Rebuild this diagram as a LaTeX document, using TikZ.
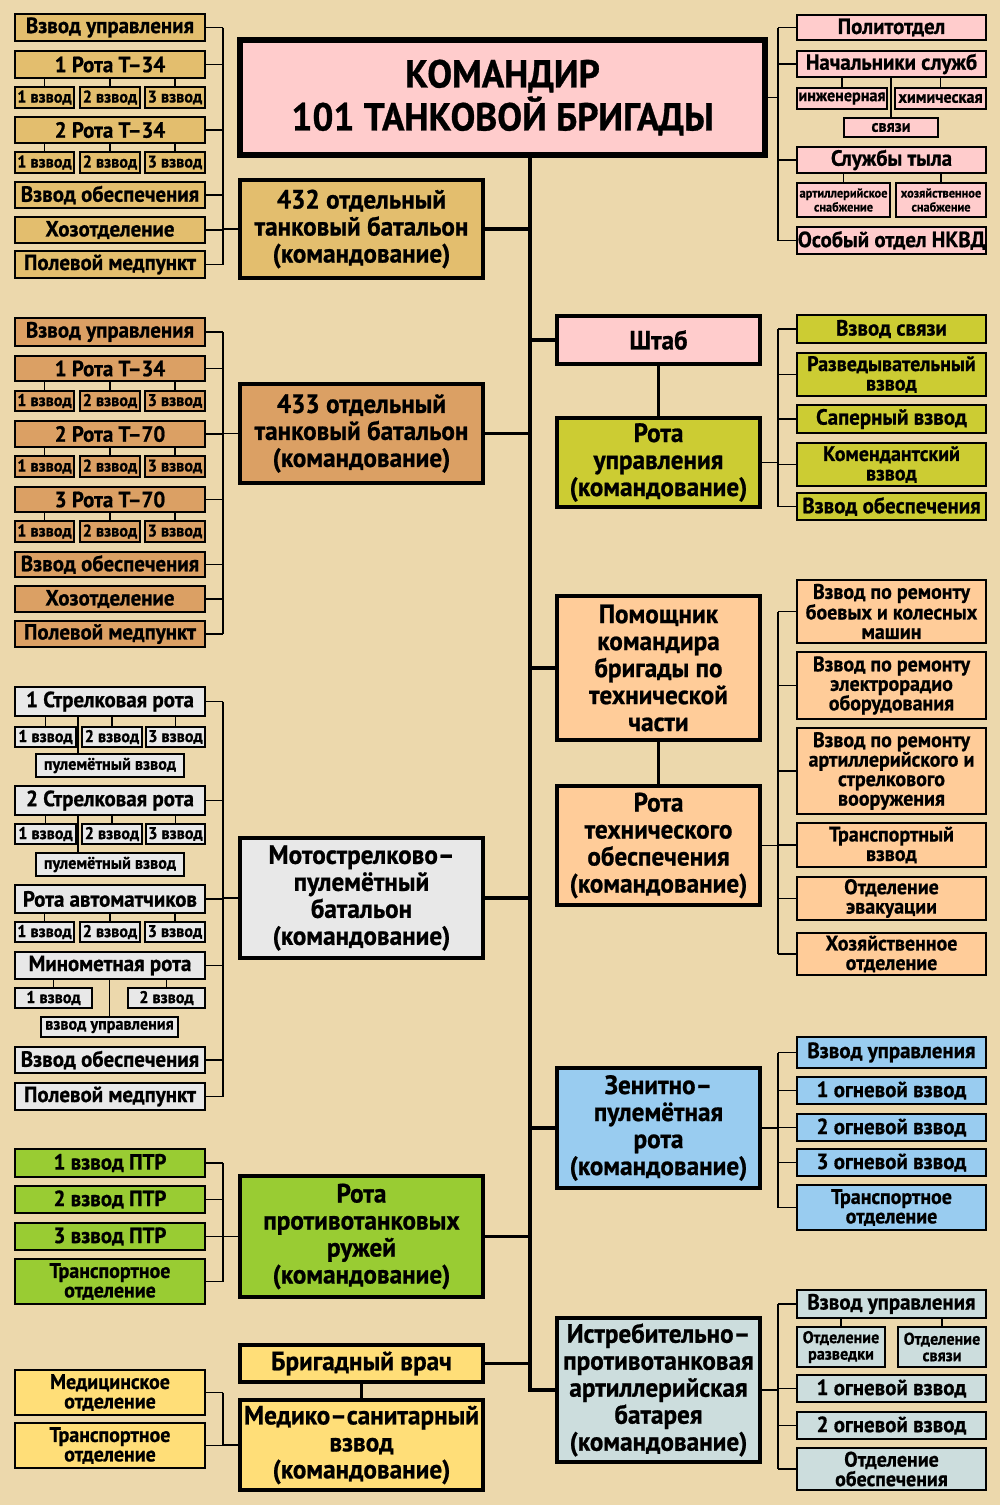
\documentclass[tikz,border=0pt]{standalone}
\usepackage{fontspec}
\setmainfont{PT Sans}[FakeStretch=0.95,BoldFeatures={FakeBold=0.8}]
\definecolor{bgc}{RGB}{236,216,172}
\definecolor{cpink}{RGB}{255,204,204}
\definecolor{ctan}{RGB}{227,190,110}
\definecolor{corg}{RGB}{219,160,100}
\definecolor{cgray}{RGB}{232,232,232}
\definecolor{cgreen}{RGB}{153,204,51}
\definecolor{cyel}{RGB}{255,222,120}
\definecolor{colive}{RGB}{204,204,51}
\definecolor{cpeach}{RGB}{255,204,153}
\definecolor{cblue}{RGB}{153,204,240}
\definecolor{cgb}{RGB}{204,221,221}
\newcommand\mybox[7]{\node[#2,minimum width={#5-#3},minimum height={#6-#4}] (#1) at ({(#3+#5)/2},{(#4+#6)/2}) {#7};}
\newcommand\fz[2]{\fontsize{#1}{#2}\selectfont}
\tikzset{
 bx/.style={draw=black,rectangle,inner sep=0pt,align=center,text=black},
 BB/.style={bx,line width=3.6pt},
 SB/.style={bx,line width=1.8pt},
 fC/.style={font=\bfseries\fz{39}{43}},
 fB/.style={font=\bfseries\fz{26.5}{27}},
 fS/.style={font=\bfseries\fz{22}{22}},
 fS2/.style={font=\bfseries\fz{21}{19.5}},
 fT/.style={font=\bfseries\fz{17}{16.5}},
 fTT/.style={font=\bfseries\fz{13}{14}},
 lnS/.style={line width=1.8pt},
 lnB/.style={line width=3.6pt},
}
\begin{document}
\begin{tikzpicture}[x=1pt,y=-1pt]
\fill[bgc] (0,0) rectangle (1000,1505);
\useasboundingbox (0,0) rectangle (1000,1505);
\coordinate (LB) at (223,0);
\coordinate (RB) at (778,0);
\coordinate (TR) at (530,0);
\coordinate (PX) at (78,0);
% commander
\mybox{cmd}{BB,fC,fill=cpink,line width=5.5pt}{240}{40}{765}{155}{КОМАНДИР\\101 ТАНКОВОЙ БРИГАДЫ}
% ---------- 432
\mybox{vu1}{SB,fS,fill=ctan}{15}{14}{205}{41}{Взвод управления}
\mybox{r1a}{SB,fS,fill=ctan}{15}{51}{205}{78}{1 Рота Т–34}
\mybox{r1a1}{SB,fT,fill=ctan}{15}{87}{74}{108}{1 взвод}
\mybox{r1a2}{SB,fT,fill=ctan}{80}{87}{140}{108}{2 взвод}
\mybox{r1a3}{SB,fT,fill=ctan}{145}{87}{205}{108}{3 взвод}
\mybox{r2a}{SB,fS,fill=ctan}{15}{117}{205}{143}{2 Рота Т–34}
\mybox{r2a1}{SB,fT,fill=ctan}{15}{152}{74}{173}{1 взвод}
\mybox{r2a2}{SB,fT,fill=ctan}{80}{152}{140}{173}{2 взвод}
\mybox{r2a3}{SB,fT,fill=ctan}{145}{152}{205}{173}{3 взвод}
\mybox{vo1}{SB,fS,fill=ctan}{15}{182}{205}{208}{Взвод обеспечения}
\mybox{hoz1}{SB,fS,fill=ctan}{15}{217}{205}{243}{Хозотделение}
\mybox{med1}{SB,fS,fill=ctan}{15}{251}{205}{278}{Полевой медпункт}
\mybox{b432}{BB,fB,fill=ctan}{240}{180}{483}{278}{432 отдельный\\танковый батальон\\(командование)}
% ---------- 433
\mybox{vu2}{SB,fS,fill=corg}{15}{318}{205}{346}{Взвод управления}
\mybox{r1b}{SB,fS,fill=corg}{15}{356}{205}{381}{1 Рота Т–34}
\mybox{r1b1}{SB,fT,fill=corg}{15}{391}{74}{411}{1 взвод}
\mybox{r1b2}{SB,fT,fill=corg}{80}{391}{140}{411}{2 взвод}
\mybox{r1b3}{SB,fT,fill=corg}{145}{391}{205}{411}{3 взвод}
\mybox{r2b}{SB,fS,fill=corg}{15}{421}{205}{447}{2 Рота Т–70}
\mybox{r2b1}{SB,fT,fill=corg}{15}{456}{74}{477}{1 взвод}
\mybox{r2b2}{SB,fT,fill=corg}{80}{456}{140}{477}{2 взвод}
\mybox{r2b3}{SB,fT,fill=corg}{145}{456}{205}{477}{3 взвод}
\mybox{r3b}{SB,fS,fill=corg}{15}{487}{205}{512}{3 Рота Т–70}
\mybox{r3b1}{SB,fT,fill=corg}{15}{521}{74}{542}{1 взвод}
\mybox{r3b2}{SB,fT,fill=corg}{80}{521}{140}{542}{2 взвод}
\mybox{r3b3}{SB,fT,fill=corg}{145}{521}{205}{542}{3 взвод}
\mybox{vo2}{SB,fS,fill=corg}{15}{552}{205}{577}{Взвод обеспечения}
\mybox{hoz2}{SB,fS,fill=corg}{15}{586}{205}{612}{Хозотделение}
\mybox{med2}{SB,fS,fill=corg}{15}{621}{205}{647}{Полевой медпункт}
\mybox{b433}{BB,fB,fill=corg}{240}{384}{483}{483}{433 отдельный\\танковый батальон\\(командование)}
% ---------- moto
\mybox{s1}{SB,fS,fill=cgray}{15}{687}{205}{716}{1 Стрелковая рота}
\mybox{s1a}{SB,fT,fill=cgray}{15}{727}{76}{747}{1 взвод}
\mybox{s1b}{SB,fT,fill=cgray}{82}{727}{142}{747}{2 взвод}
\mybox{s1c}{SB,fT,fill=cgray}{146}{727}{205}{747}{3 взвод}
\mybox{s1p}{SB,fT,fill=cgray}{36}{754}{184}{777}{пулемётный взвод}
\mybox{s2}{SB,fS,fill=cgray}{15}{786}{205}{815}{2 Стрелковая рота}
\mybox{s2a}{SB,fT,fill=cgray}{15}{824}{76}{844}{1 взвод}
\mybox{s2b}{SB,fT,fill=cgray}{82}{824}{142}{844}{2 взвод}
\mybox{s2c}{SB,fT,fill=cgray}{146}{824}{205}{844}{3 взвод}
\mybox{s2p}{SB,fT,fill=cgray}{36}{853}{184}{876}{пулемётный взвод}
\mybox{ra}{SB,fS,fill=cgray}{15}{885}{205}{913}{Рота автоматчиков}
\mybox{raa}{SB,fT,fill=cgray}{15}{922}{74}{942}{1 взвод}
\mybox{rab}{SB,fT,fill=cgray}{80}{922}{140}{942}{2 взвод}
\mybox{rac}{SB,fT,fill=cgray}{145}{922}{205}{942}{3 взвод}
\mybox{mr}{SB,fS,fill=cgray}{15}{952}{205}{979}{Минометная рота}
\mybox{mra}{SB,fT,fill=cgray}{15}{988}{92}{1008}{1 взвод}
\mybox{mrb}{SB,fT,fill=cgray}{128}{988}{205}{1008}{2 взвод}
\mybox{mru}{SB,fT,fill=cgray}{41}{1017}{178}{1037}{взвод управления}
\mybox{vo3}{SB,fS,fill=cgray}{15}{1047}{205}{1073}{Взвод обеспечения}
\mybox{med3}{SB,fS,fill=cgray}{15}{1083}{205}{1110}{Полевой медпункт}
\mybox{moto}{BB,fB,fill=cgray}{240}{838}{483}{958}{Мотострелково–\\пулемётный\\батальон\\(командование)}
% ---------- PTR
\mybox{p1}{SB,fS,fill=cgreen}{15}{1149}{205}{1177}{1 взвод ПТР}
\mybox{p2}{SB,fS,fill=cgreen}{15}{1186}{205}{1213}{2 взвод ПТР}
\mybox{p3}{SB,fS,fill=cgreen}{15}{1223}{205}{1250}{3 взвод ПТР}
\mybox{pt}{SB,fS2,fill=cgreen}{15}{1259}{205}{1304}{Транспортное\\отделение}
\mybox{ptr}{BB,fB,fill=cgreen}{240}{1176}{483}{1297}{Рота\\противотанковых\\ружей\\(командование)}
% ---------- medical
\mybox{mo}{SB,fS2,fill=cyel}{15}{1370}{205}{1415}{Медицинское\\отделение}
\mybox{mt}{SB,fS2,fill=cyel}{15}{1423}{205}{1468}{Транспортное\\отделение}
\mybox{vrach}{BB,fB,fill=cyel}{240}{1345}{483}{1382}{Бригадный врач}
\mybox{msv}{BB,fB,fill=cyel}{240}{1400}{483}{1490}{Медико–санитарный\\взвод\\(командование)}
% ---------- right top
\mybox{pol}{SB,fS,fill=cpink}{797}{15}{986}{40}{Политотдел}
\mybox{nach}{SB,fS,fill=cpink}{797}{51}{986}{77}{Начальники служб}
\mybox{ing}{SB,fT,fill=cpink}{797}{88}{887}{109}{инженерная}
\mybox{him}{SB,fT,fill=cpink}{895}{88}{986}{109}{химическая}
\mybox{svz}{SB,fT,fill=cpink}{844}{118}{938}{137}{связи}
\mybox{tyl}{SB,fS,fill=cpink}{797}{147}{986}{173}{Службы тыла}
\mybox{art}{SB,fTT,fill=cpink}{797}{183}{890}{217}{артиллерийское\\снабжение}
\mybox{hozs}{SB,fTT,fill=cpink}{896}{183}{986}{217}{хозяйственное\\снабжение}
\mybox{nkvd}{SB,fS,fill=cpink}{797}{227}{986}{254}{Особый отдел НКВД}
% ---------- shtab
\mybox{shtab}{BB,fB,fill=cpink}{557}{316}{760}{364}{Штаб}
\mybox{rup}{BB,fB,fill=colive}{557}{418}{760}{507}{Рота\\управления\\(командование)}
\mybox{vsv}{SB,fS,fill=colive}{797}{315}{986}{343}{Взвод связи}
\mybox{razv}{SB,fS2,fill=colive}{797}{353}{986}{396}{Разведывательный\\взвод}
\mybox{sap}{SB,fS,fill=colive}{797}{405}{986}{433}{Саперный взвод}
\mybox{kom}{SB,fS2,fill=colive}{797}{443}{986}{486}{Комендантский\\взвод}
\mybox{vo4}{SB,fS,fill=colive}{797}{493}{986}{520}{Взвод обеспечения}
% ---------- tech
\mybox{pom}{BB,fB,fill=cpeach}{557}{596}{760}{740}{Помощник\\командира\\бригады по\\технической\\части}
\mybox{rto}{BB,fB,fill=cpeach}{557}{786}{760}{905}{Рота\\технического\\обеспечения\\(командование)}
\mybox{t1}{SB,fS2,fill=cpeach}{797}{580}{986}{643}{Взвод по ремонту\\боевых и колесных\\машин}
\mybox{t2}{SB,fS2,fill=cpeach}{797}{652}{986}{719}{Взвод по ремонту\\электрорадио\\оборудования}
\mybox{t3}{SB,fS2,fill=cpeach}{797}{728}{986}{814}{Взвод по ремонту\\артиллерийского и\\стрелкового\\вооружения}
\mybox{t4}{SB,fS2,fill=cpeach}{797}{823}{986}{867}{Транспортный\\взвод}
\mybox{t5}{SB,fS2,fill=cpeach}{797}{877}{986}{920}{Отделение\\эвакуации}
\mybox{t6}{SB,fS2,fill=cpeach}{797}{933}{986}{975}{Хозяйственное\\отделение}
% ---------- zenit
\mybox{zen}{BB,fB,fill=cblue}{557}{1068}{760}{1188}{Зенитно–\\пулемётная\\рота\\(командование)}
\mybox{z1}{SB,fS,fill=cblue}{797}{1037}{986}{1068}{Взвод управления}
\mybox{z2}{SB,fS,fill=cblue}{797}{1077}{986}{1104}{1 огневой взвод}
\mybox{z3}{SB,fS,fill=cblue}{797}{1114}{986}{1141}{2 огневой взвод}
\mybox{z4}{SB,fS,fill=cblue}{797}{1149}{986}{1176}{3 огневой взвод}
\mybox{z5}{SB,fS2,fill=cblue}{797}{1185}{986}{1230}{Транспортное\\отделение}
% ---------- istreb
\mybox{ist}{BB,fB,fill=cgb}{557}{1318}{760}{1462}{Истребительно–\\противотанковая\\артиллерийская\\батарея\\(командование)}
\mybox{i1}{SB,fS,fill=cgb}{797}{1290}{986}{1318}{Взвод управления}
\mybox{i1a}{SB,fT,fill=cgb}{797}{1327}{885}{1367}{Отделение\\разведки}
\mybox{i1b}{SB,fT,fill=cgb}{898}{1327}{986}{1367}{Отделение\\связи}
\mybox{i2}{SB,fS,fill=cgb}{797}{1375}{986}{1402}{1 огневой взвод}
\mybox{i3}{SB,fS,fill=cgb}{797}{1412}{986}{1439}{2 огневой взвод}
\mybox{i4}{SB,fS2,fill=cgb}{797}{1448}{986}{1490}{Отделение\\обеспечения}
% ================= connectors
% trunk
\draw[lnB] (cmd.south -| TR) -- (ist.west -| TR) -- (ist.west);
\foreach \n in {b432,b433,moto,ptr,vrach} \draw[lnB] (\n.east) -- (\n.east -| TR);
\foreach \n in {shtab,pom,zen} \draw[lnB] (\n.west) -- (\n.west -| TR);
\draw[lnB] (shtab.south) -- (rup.north);
\draw[lnB] (pom.south) -- (rto.north);
\draw[lnB] (vrach.south) -- (msv.north);
% left brackets
\draw[lnS] (vu1.east -| LB) -- (med1.east -| LB);
\foreach \n in {vu1,r1a,r2a,vo1,hoz1,med1} \draw[lnS] (\n.east) -- (\n.east -| LB);
\draw[lnS] (b432.west) -- (b432.west -| LB);
\foreach \c in {1,2,3} {\draw[lnS] (r1a\c.north) -- (r1a\c.north |- r1a.south);
  \draw[lnS] (r2a\c.north) -- (r2a\c.north |- r2a.south);}
\draw[lnS] (vu2.east -| LB) -- (med2.east -| LB);
\foreach \n in {vu2,r1b,r2b,r3b,vo2,hoz2,med2} \draw[lnS] (\n.east) -- (\n.east -| LB);
\draw[lnS] (b433.west) -- (b433.west -| LB);
\foreach \c in {1,2,3} {\draw[lnS] (r1b\c.north) -- (r1b\c.north |- r1b.south);
  \draw[lnS] (r2b\c.north) -- (r2b\c.north |- r2b.south);
  \draw[lnS] (r3b\c.north) -- (r3b\c.north |- r3b.south);}
\draw[lnS] (s1.east -| LB) -- (med3.east -| LB);
\foreach \n in {s1,s2,ra,mr,vo3,med3} \draw[lnS] (\n.east) -- (\n.east -| LB);
\draw[lnS] (moto.west) -- (moto.west -| LB);
\foreach \c in {a,b,c} {\draw[lnS] (s1\c.north) -- (s1\c.north |- s1.south);
  \draw[lnS] (s2\c.north) -- (s2\c.north |- s2.south);
  \draw[lnS] (ra\c.north) -- (ra\c.north |- ra.south);}
\draw[lnS] (s1.south -| PX) -- (s1p.north -| PX);
\draw[lnS] (s2.south -| PX) -- (s2p.north -| PX);
\foreach \c in {a,b,u} \draw[lnS] (mr\c.north) -- (mr\c.north |- mr.south);
\draw[lnS] (p1.east -| LB) -- (pt.east -| LB);
\foreach \n in {p1,p2,p3,pt} \draw[lnS] (\n.east) -- (\n.east -| LB);
\draw[lnS] (ptr.west) -- (ptr.west -| LB);
\draw[lnS] (mo.east -| LB) -- (mt.east -| LB);
\foreach \n in {mo,mt} \draw[lnS] (\n.east) -- (\n.east -| LB);
\draw[lnS] (msv.west) -- (msv.west -| LB);
% right brackets
\draw[lnS] (pol.west -| RB) -- (nkvd.west -| RB);
\foreach \n in {pol,nach,tyl,nkvd} \draw[lnS] (\n.west) -- (\n.west -| RB);
\draw[lnS] (cmd.east) -- (cmd.east -| RB);
\foreach \n in {ing,him,svz} \draw[lnS] (\n.north) -- (\n.north |- nach.south);
\foreach \n in {art,hozs} \draw[lnS] (\n.north) -- (\n.north |- tyl.south);
\draw[lnS] (vsv.west -| RB) -- (vo4.west -| RB);
\foreach \n in {vsv,razv,sap,kom,vo4} \draw[lnS] (\n.west) -- (\n.west -| RB);
\draw[lnS] (rup.east) -- (rup.east -| RB);
\draw[lnS] (t1.west -| RB) -- (t6.west -| RB);
\foreach \n in {t1,t2,t3,t4,t5,t6} \draw[lnS] (\n.west) -- (\n.west -| RB);
\draw[lnS] (rto.east) -- (rto.east -| RB);
\draw[lnS] (z1.west -| RB) -- (z5.west -| RB);
\foreach \n in {z1,z2,z3,z4,z5} \draw[lnS] (\n.west) -- (\n.west -| RB);
\draw[lnS] (zen.east) -- (zen.east -| RB);
\draw[lnS] (i1.west -| RB) -- (i4.west -| RB);
\foreach \n in {i1,i2,i3,i4} \draw[lnS] (\n.west) -- (\n.west -| RB);
\draw[lnS] (ist.east) -- (ist.east -| RB);
\foreach \n in {i1a,i1b} \draw[lnS] (\n.north) -- (\n.north |- i1.south);
\end{tikzpicture}
\end{document}
